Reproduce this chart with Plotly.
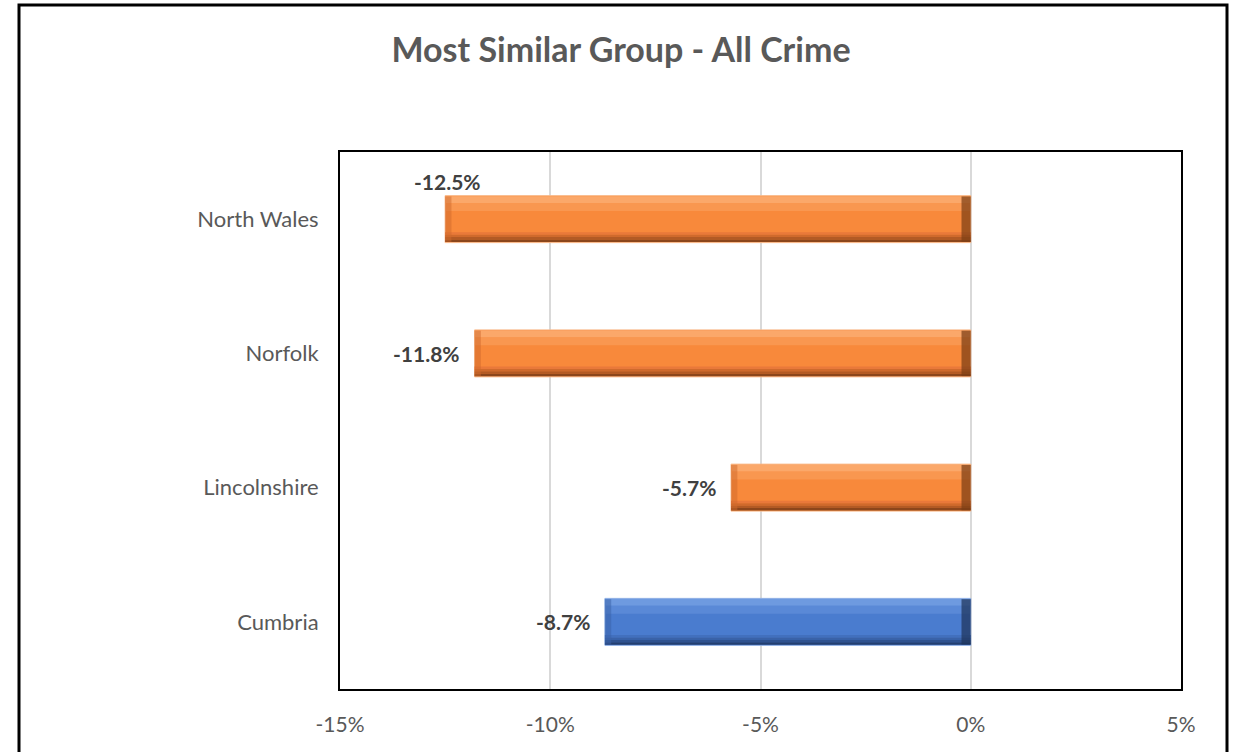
import plotly.graph_objects as go

categories = ["North Wales", "Norfolk", "Lincolnshire", "Cumbria"]
values = [-12.5, -11.8, -5.7, -8.7]
label_text = ["-12.5%", "-11.8%", "-5.7%", "-8.7%"]
highlight = [False, False, False, True]  # Cumbria is the home force
tick_vals = [-15, -10, -5, 0, 5]
tick_text = ["-15%", "-10%", "-5%", "0%", "5%"]
title_text = "Most Similar Group - All Crime"

ORANGE = dict(main="#F8893B", light="#FBA86A", edge="#F9B98A",
              dark=["#E9793A", "#D06A2C", "#B35A24", "#8C461B"], end="#7A3D14")
BLUE = dict(main="#4A7CCF", light="#6E9AE0", edge="#8FB0E6",
            dark=["#4270BE", "#3A62A8", "#2F5290", "#243F70"], end="#1E3358")

def pal(i, key):
    return (BLUE if highlight[i] else ORANGE)[key]

BW = 0.35  # bar thickness in category units
fig = go.Figure()

# main bar
fig.add_trace(go.Bar(
    y=categories, x=values, orientation="h", width=BW,
    marker=dict(color=[pal(i, "main") for i in range(len(values))],
                line=dict(color=[pal(i, "edge") for i in range(len(values))], width=1)),
    hoverinfo="skip", showlegend=False))

# top highlight (axis reversed: negative offset = upward on screen)
fig.add_trace(go.Bar(
    y=categories, x=values, orientation="h", width=0.05, offset=-BW / 2 + 0.005,
    marker=dict(color=[pal(i, "light") for i in range(len(values))], line=dict(width=0)),
    hoverinfo="skip", showlegend=False))
fig.add_trace(go.Bar(
    y=categories, x=values, orientation="h", width=0.06, offset=-BW / 2 + 0.055,
    marker=dict(color=[pal(i, "light") for i in range(len(values))], line=dict(width=0)),
    opacity=0.45, hoverinfo="skip", showlegend=False))

# bottom shading strips
steps = 4
sw = 0.018
for k in range(steps):
    fig.add_trace(go.Bar(
        y=categories, x=values, orientation="h", width=sw,
        offset=BW / 2 - 0.005 - (steps - k) * sw,
        marker=dict(color=[(BLUE if highlight[i] else ORANGE)["dark"][k] for i in range(len(values))],
                    line=dict(width=0)),
        hoverinfo="skip", showlegend=False))

# right end bevel (at zero)
fig.add_trace(go.Bar(
    y=categories, x=[0.22] * len(values), base=[-0.22] * len(values), orientation="h",
    width=BW - 0.012,
    marker=dict(color=[pal(i, "end") for i in range(len(values))], line=dict(width=0)),
    opacity=0.7, hoverinfo="skip", showlegend=False))
# left end bevel
fig.add_trace(go.Bar(
    y=categories, x=[0.15] * len(values), base=values, orientation="h",
    width=BW - 0.012,
    marker=dict(color=[pal(i, "dark")[1] for i in range(len(values))], line=dict(width=0)),
    opacity=0.5, hoverinfo="skip", showlegend=False))

# data labels
for i, (c, v, t) in enumerate(zip(categories, values, label_text)):
    if i == 0:
        fig.add_annotation(x=v, y=c, text=f"<b>{t}</b>", showarrow=False,
                           xanchor="center", yanchor="middle", yshift=38, xshift=2,
                           font=dict(family="Lato", size=21, color="#404040"))
    else:
        fig.add_annotation(x=v, y=c, text=f"<b>{t}</b>", showarrow=False,
                           xanchor="right", yanchor="middle", xshift=-13,
                           font=dict(family="Lato", size=21, color="#404040"))

# outer chart border
fig.add_shape(type="rect", xref="paper", yref="paper",
              x0=(19 - 340) / 841, x1=(1227 - 340) / 841,
              y0=(689 - 770) / 537, y1=(689 - 5) / 537,
              line=dict(color="black", width=3), layer="below")

fig.update_layout(
    barmode="overlay",
    width=1242, height=752,
    margin=dict(l=340, r=61, t=152, b=63),
    paper_bgcolor="white", plot_bgcolor="white",
    title=dict(text=f"<b>{title_text}</b>", x=0.5, xref="container", xanchor="center",
               y=1 - 50 / 752, yref="container", yanchor="middle",
               font=dict(family="Lato", size=34, color="#595959")),
    xaxis=dict(range=[-15, 5], tickvals=tick_vals, ticktext=tick_text,
               showgrid=True, gridcolor="#D9D9D9", gridwidth=1.5, zeroline=False,
               showline=True, linecolor="black", linewidth=2, mirror=True,
               ticks="", ticklabelstandoff=16,
               tickfont=dict(family="Lato", size=21, color="#595959")),
    yaxis=dict(autorange="reversed", showgrid=False, zeroline=False,
               showline=True, linecolor="black", linewidth=2, mirror=True,
               ticks="", ticklabelstandoff=15,
               tickfont=dict(family="Lato", size=22, color="#595959")),
)

fig.write_html("out.html", config={"displayModeBar": False},
               post_script="document.body.style.margin='0';")
